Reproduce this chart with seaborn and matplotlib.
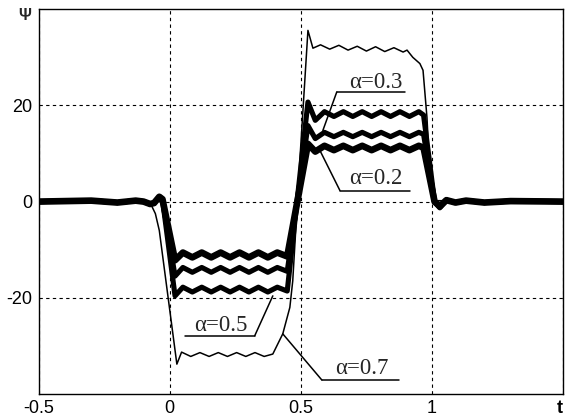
import numpy as np
import pandas as pd
import matplotlib
matplotlib.use("Agg")
import matplotlib.pyplot as plt
import seaborn as sns

sns.set_style("white")
plt.rcParams['font.family'] = ['Liberation Sans', 'DejaVu Sans']

# time grid shared by the three thick curves
t_thick = [-0.5, -0.3, -0.2, -0.13, -0.1, -0.075, -0.06, -0.04, -0.028,
           0.02, 0.05, 0.086, 0.122, 0.158, 0.194, 0.23, 0.266, 0.302, 0.338,
           0.374, 0.41, 0.448,
           0.527, 0.555, 0.59, 0.626, 0.662, 0.698, 0.734, 0.77, 0.806, 0.842,
           0.878, 0.914, 0.95, 0.968,
           1.01, 1.03, 1.055, 1.09, 1.13, 1.2, 1.3, 1.5]

base = [0, 0.2, -0.2, 0.2, 0, -0.5, -0.3, 1.0, 0.5]

psi_05 = base + [-19.6, -17.8, -18.8, -17.8, -18.8, -17.8, -18.8, -17.8, -18.8,
                 -17.8, -18.8, -17.8, -18.6,
                 20.7, 16.9, 18.7, 17.7, 18.7, 17.7, 18.7, 17.7, 18.7, 17.7,
                 18.7, 17.7, 18.7, 18.0,
                 0.0, -1.3, 0.3, -0.2, 0.2, -0.2, 0.1, 0]

psi_03 = base + [-15.5, -13.7, -14.7, -13.7, -14.7, -13.7, -14.7, -13.7, -14.7,
                 -13.7, -14.7, -13.7, -14.5,
                 15.8, 13.1, 14.4, 13.5, 14.4, 13.5, 14.4, 13.5, 14.4, 13.5,
                 14.4, 13.5, 14.4, 14.0,
                 0.0, -1.1, 0.3, -0.2, 0.2, -0.2, 0.1, 0]

psi_02 = base + [-12.2, -10.6, -11.6, -10.6, -11.6, -10.6, -11.6, -10.6, -11.6,
                 -10.6, -11.6, -10.6, -11.4,
                 12.0, 10.4, 11.6, 10.7, 11.6, 10.7, 11.6, 10.7, 11.6, 10.7,
                 11.6, 10.7, 11.6, 11.2,
                 0.0, -1.0, 0.3, -0.2, 0.2, -0.2, 0.1, 0]

# thin curve (alpha = 0.7)
t_thin = [-0.5, -0.088, -0.07, -0.055, -0.04, 0.027, 0.045, 0.08, 0.115, 0.15,
          0.185, 0.22, 0.255, 0.29, 0.325, 0.36, 0.393, 0.431, 0.458, 0.469,
          0.496, 0.527, 0.546, 0.575, 0.61, 0.645, 0.68, 0.715, 0.75, 0.785,
          0.82, 0.855, 0.89, 0.905, 0.927, 0.954, 0.966, 0.981, 0.992, 1.0, 1.5]
psi_07 = [0, 0, -0.8, -2.5, -6.0, -33.8, -31.3, -32.2, -31.4, -32.2,
          -31.4, -32.2, -31.4, -32.2, -31.4, -32.2, -31.7, -27.5, -22.0, -16.5,
          8.5, 35.6, 31.9, 32.6, 31.7, 32.5, 31.5, 32.3, 31.3, 32.2,
          31.2, 32.0, 31.1, 31.5, 30.0, 28.7, 27.3, 17.5, 5.8, 0.2, 0]

x_ticks = [-0.5, 0, 0.5, 1, 1.5]
x_labels = ['-0.5', '0', '0.5', '1', 't']
y_ticks = [-20, 0, 20]
y_labels = ['-20', '0', '20']

# label text, text x, text baseline y, underline x0, x1, y, leader end x, y
notes = [
    ("α=0.3", 0.786, 23.6, 0.637, 0.897, 22.8, 0.584, 14.8),
    ("α=0.2", 0.786, 3.6, 0.649, 0.916, 2.3, 0.573, 10.6),
    ("α=0.5", 0.195, -27.0, 0.057, 0.324, -27.9, 0.393, -19.6),
    ("α=0.7", 0.731, -35.8, 0.580, 0.874, -37.1, 0.431, -27.5),
]

fig = plt.figure(figsize=(5.65, 4.16), dpi=100)
ax = fig.add_axes([0.0685, 0.053, 0.928, 0.9248])

ax.grid(True, color='black', linestyle=(0, (3, 3)), linewidth=0.8)
ax.set_axisbelow(True)

sns.lineplot(data=pd.DataFrame({"t": t_thin, "psi": psi_07}), x="t", y="psi",
             sort=False, estimator=None, color="black", linewidth=1.1, ax=ax)

for vals, lw in [(psi_05, 3.7), (psi_03, 3.7), (psi_02, 4.8)]:
    df = pd.DataFrame({"t": t_thick, "psi": vals})
    sns.lineplot(data=df, x="t", y="psi", sort=False, estimator=None,
                 color="black", linewidth=lw, solid_joinstyle='round',
                 solid_capstyle='butt', ax=ax)

for txt, tx, ty, ux0, ux1, uy, lx, ly in notes:
    ax.plot([ux1, ux0], [uy, uy], color='black', linewidth=1.1)
    if txt == "α=0.5":
        ax.plot([ux1, lx], [uy, ly], color='black', linewidth=1.1)
    else:
        ax.plot([ux0, lx], [uy, ly], color='black', linewidth=1.1)
    ax.text(tx, ty, txt, ha='center', va='baseline', fontsize=16.5,
            family=['Liberation Serif', 'DejaVu Serif'])

ax.set_xlim(-0.5, 1.5)
ax.set_ylim(-40, 40)
ax.set_xticks(x_ticks)
ax.set_xticklabels(x_labels)
last = ax.get_xticklabels()[-1]
last.set_fontweight('bold')
last.set_horizontalalignment('right')
ax.set_yticks(y_ticks)
ax.set_yticklabels(y_labels)
ax.tick_params(length=0, pad=4.5, labelsize=13, colors='black')
ax.set_xlabel('')
ax.set_ylabel('')
for s in ax.spines.values():
    s.set_color('black')
    s.set_linewidth(1.0)

fig.text(0.0442, 0.962, 'Ψ', ha='center', va='center', fontsize=11.5,
         fontweight='bold')

fig.savefig('out.png', dpi=100)
